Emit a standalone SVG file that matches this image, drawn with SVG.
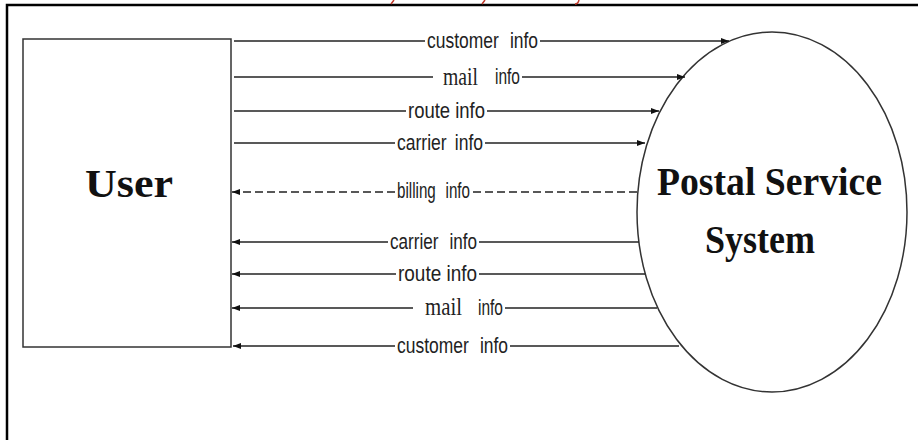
<svg xmlns="http://www.w3.org/2000/svg" width="918" height="440" viewBox="0 0 918 440">
<style>
.frame{stroke:#000;stroke-width:2.5;fill:none}
.node{fill:#fff;stroke:#333;stroke-width:1.5}
.big{font-family:"Liberation Serif","Times New Roman",serif;font-weight:bold;font-size:40px;fill:#111}
.flow{stroke:#222;stroke-width:1.5;fill:none}
.dash{stroke-dasharray:8 4}
.lbl{font-family:"Liberation Sans",Arial,sans-serif;font-size:22px;fill:#222}
.ser{font-family:"Liberation Serif","Times New Roman",serif;font-size:26px;fill:#222}
.red{stroke:#c0392b;stroke-width:1.5;fill:none}
</style>
<defs>
<marker id="ah" markerWidth="9" markerHeight="7" refX="8" refY="3" orient="auto" markerUnits="userSpaceOnUse">
<path d="M0,0 L8,3 L0,6 z" fill="#111"/>
</marker>
</defs>
<rect width="918" height="440" fill="#fff"/>
<path class="frame" d="M7,440 V5 H918"/>
<path class="red" d="M394,0 L391,4 M485,0 L482,4 M579,0 Q578,4 575,4"/>
<g id="user">
<rect class="node" x="23" y="39" width="208" height="308"/>
<text class="big" x="85" y="197" textLength="88" lengthAdjust="spacingAndGlyphs">User</text>
</g>
<g id="postal">
<ellipse class="node" cx="772" cy="212" rx="135" ry="180"/>
<text class="big" x="657" y="195" textLength="225" lengthAdjust="spacingAndGlyphs">Postal Service</text>
<text class="big" x="705" y="253" textLength="110" lengthAdjust="spacingAndGlyphs">System</text>
</g>
<g id="connectors">
<g id="c1">
<path class="flow" d="M234,41 H425"/>
<path class="flow" d="M540,41 H729" marker-end="url(#ah)"/>
<text class="lbl" x="427" y="48" textLength="111" lengthAdjust="spacingAndGlyphs" style="word-spacing:8px">customer info</text>
</g>
<g id="c2">
<path class="flow" d="M234,77 H433"/>
<path class="flow" d="M522,77 H685" marker-end="url(#ah)"/>
<text class="ser" x="443" y="85" textLength="35" lengthAdjust="spacingAndGlyphs">mail</text>
<text class="lbl" x="495" y="84" textLength="25" lengthAdjust="spacingAndGlyphs">info</text>
</g>
<g id="c3">
<path class="flow" d="M234,111 H406"/>
<path class="flow" d="M487,111 H659" marker-end="url(#ah)"/>
<text class="lbl" x="408" y="118" textLength="77" lengthAdjust="spacingAndGlyphs">route info</text>
</g>
<g id="c4">
<path class="flow" d="M234,143 H395"/>
<path class="flow" d="M485,143 H645" marker-end="url(#ah)"/>
<text class="lbl" x="397" y="150" textLength="86" lengthAdjust="spacingAndGlyphs" style="word-spacing:4px">carrier info</text>
</g>
<g id="c5">
<path class="flow dash" d="M637,192 H473"/>
<path class="flow dash" d="M395,192 H232" marker-end="url(#ah)"/>
<text class="lbl" x="397" y="198" textLength="73" lengthAdjust="spacingAndGlyphs" style="word-spacing:8px">billing info</text>
</g>
<g id="c6">
<path class="flow" d="M639,242 H479"/>
<path class="flow" d="M388,242 H232" marker-end="url(#ah)"/>
<text class="lbl" x="390" y="249" textLength="87" lengthAdjust="spacingAndGlyphs" style="word-spacing:8px">carrier info</text>
</g>
<g id="c7">
<path class="flow" d="M645,274 H479"/>
<path class="flow" d="M396,274 H232" marker-end="url(#ah)"/>
<text class="lbl" x="398" y="281" textLength="79" lengthAdjust="spacingAndGlyphs">route info</text>
</g>
<g id="c8">
<path class="flow" d="M657,308 H505"/>
<path class="flow" d="M413,308 H232" marker-end="url(#ah)"/>
<text class="ser" x="425" y="315" textLength="37" lengthAdjust="spacingAndGlyphs">mail</text>
<text class="lbl" x="478" y="315" textLength="25" lengthAdjust="spacingAndGlyphs">info</text>
</g>
<g id="c9">
<path class="flow" d="M679,346 H510"/>
<path class="flow" d="M395,346 H233" marker-end="url(#ah)"/>
<text class="lbl" x="397" y="353" textLength="111" lengthAdjust="spacingAndGlyphs" style="word-spacing:8px">customer info</text>
</g>
</g>
</svg>
